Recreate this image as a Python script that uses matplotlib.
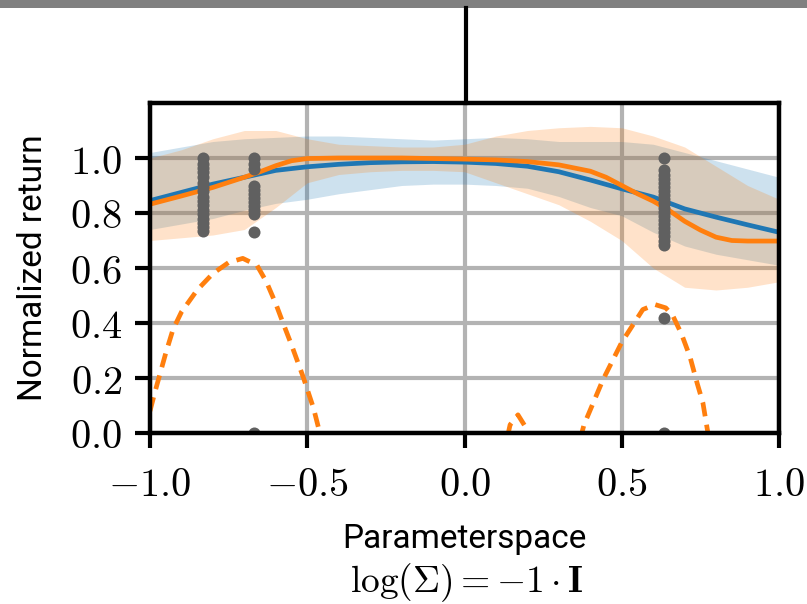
import numpy as np
import matplotlib
matplotlib.use("Agg")
import matplotlib.pyplot as plt
from matplotlib.ticker import FuncFormatter
from matplotlib.lines import Line2D
from matplotlib.patches import Rectangle

plt.rcParams['mathtext.fontset'] = 'cm'
plt.rcParams['font.family'] = ['Roboto', 'DejaVu Sans']

# GP posterior means / confidence bands
x_grid = np.round(np.arange(-1.0, 1.01, 0.1), 2)
blue_mean = [0.845, 0.875, 0.905, 0.93, 0.955, 0.968, 0.977, 0.983, 0.986, 0.987, 0.985,
             0.98, 0.97, 0.95, 0.92, 0.888, 0.858, 0.815, 0.785, 0.757, 0.73]
blue_upper = [1.02, 1.04, 1.06, 1.07, 1.075, 1.08, 1.08, 1.075, 1.07, 1.065, 1.07,
              1.075, 1.07, 1.06, 1.06, 1.06, 1.05, 1.02, 0.99, 0.96, 0.93]
blue_lower = [0.74, 0.76, 0.78, 0.81, 0.835, 0.85, 0.87, 0.885, 0.9, 0.905, 0.905,
              0.9, 0.89, 0.86, 0.82, 0.79, 0.73, 0.68, 0.65, 0.63, 0.61]
orange_upper = [1.0, 1.03, 1.07, 1.10, 1.10, 1.07, 1.05, 1.045, 1.04, 1.04, 1.05,
                1.08, 1.1, 1.11, 1.115, 1.11, 1.08, 1.04, 0.97, 0.9, 0.85]
orange_lower = [0.70, 0.71, 0.72, 0.74, 0.82, 0.91, 0.94, 0.95, 0.955, 0.955, 0.95,
                0.91, 0.87, 0.83, 0.77, 0.70, 0.60, 0.53, 0.52, 0.53, 0.55]

# orange mean read a bit finer where it bends
orange_x = [-1.0, -0.9, -0.8, -0.7, -0.65, -0.6, -0.55, -0.5, -0.4, -0.3, -0.2, -0.1,
            0.0, 0.1, 0.2, 0.3, 0.4, 0.45, 0.5, 0.55, 0.6, 0.65, 0.7, 0.75, 0.8, 0.85,
            0.9, 1.0]
orange_mean = [0.832, 0.862, 0.893, 0.93, 0.95, 0.972, 0.99, 0.998, 1.0, 1.0, 1.0, 0.998,
               0.996, 0.993, 0.987, 0.975, 0.952, 0.93, 0.9, 0.87, 0.843, 0.81, 0.77,
               0.738, 0.712, 0.70, 0.698, 0.698]

# acquisition function (dashed), negative parts are clipped by the axis
acq_x = [-1.0, -0.985, -0.95, -0.927, -0.9, -0.85, -0.8, -0.75, -0.705, -0.66, -0.63,
         -0.6, -0.577, -0.55, -0.513, -0.48, -0.46, -0.44, 0.12, 0.145, 0.17, 0.195,
         0.22, 0.35, 0.38, 0.44, 0.5, 0.567, 0.606, 0.64, 0.663, 0.69, 0.717, 0.74,
         0.758, 0.774, 0.79]
acq_y = [0.08, 0.146, 0.29, 0.376, 0.44, 0.52, 0.58, 0.62, 0.635, 0.61, 0.55,
         0.47, 0.40, 0.32, 0.204, 0.09, 0.0, -0.1, -0.1, 0.03, 0.066, 0.02,
         -0.1, -0.1, 0.03, 0.193, 0.33, 0.449, 0.467, 0.455, 0.425, 0.36, 0.277, 0.18,
         0.11, 0.0, -0.1]

# evaluated samples
samp_x = [-0.83] * 17 + [-0.67] * 13 + [0.634] * 22
samp_y = [1.0, 0.98, 0.965, 0.95, 0.93, 0.91, 0.895, 0.88, 0.86, 0.845, 0.83, 0.81,
          0.795, 0.78, 0.765, 0.75, 0.735,
          1.0, 0.98, 0.96, 0.9, 0.885, 0.87, 0.855, 0.84, 0.825, 0.81, 0.795, 0.73, 0.0,
          1.0, 0.955, 0.94, 0.925, 0.91, 0.895, 0.88, 0.865, 0.85, 0.835, 0.82, 0.805,
          0.79, 0.775, 0.76, 0.745, 0.73, 0.715, 0.70, 0.685, 0.42, 0.0]

blue = '#1f77b4'
orange = '#ff7f0e'

fig = plt.figure(figsize=(8.07, 6.04), dpi=100)
ax = fig.add_axes([150 / 807, 171 / 604, 629 / 807, 330 / 604])

ax.fill_between(x_grid, blue_lower, blue_upper, color=blue, alpha=0.22, lw=0, zorder=2)
ax.fill_between(x_grid, orange_lower, orange_upper, color=orange, alpha=0.22, lw=0, zorder=2)
ax.plot(x_grid, blue_mean, color=blue, lw=3.4, zorder=3)
ax.plot(orange_x, orange_mean, color=orange, lw=3.4, zorder=3)
ax.plot(acq_x, acq_y, color=orange, lw=3.4, ls=(0, (3.0, 1.8)), zorder=3)
ax.scatter(samp_x, samp_y, s=75, color='#606060', lw=0, zorder=4)

ax.set_xlim(-1.0, 1.0)
ax.set_ylim(0.0, 1.2)
ax.set_xticks([-1.0, -0.5, 0.0, 0.5, 1.0])
ax.set_yticks([0.0, 0.2, 0.4, 0.6, 0.8, 1.0])
fmt = FuncFormatter(lambda v, p: f'${v:.1f}$')
ax.xaxis.set_major_formatter(fmt)
ax.yaxis.set_major_formatter(fmt)
ax.tick_params(length=11, width=3.0, labelsize=29, direction='out')
ax.tick_params(axis='y', pad=9)
ax.tick_params(axis='x', pad=12)
ax.grid(True, color='#b3b3b3', lw=3.0, zorder=0)
ax.set_axisbelow(True)
for s in ax.spines.values():
    s.set_linewidth(3.2)
    s.set_zorder(5)

ax.set_xlabel('Parameterspace', fontsize=24, labelpad=14)
ax.set_ylabel('Normalized return', fontsize=24, labelpad=15)
fig.text(467 / 807, 21 / 604, r'$\log(\Sigma) = -1 \cdot \mathbf{I}$',
         fontsize=27, ha='center', va='center')

# fragments of the surrounding layout
fig.add_artist(Rectangle((0, 596 / 604), 1, 8 / 604, transform=fig.transFigure,
                         color='#808080', lw=0))
fig.add_artist(Line2D([466 / 807, 466 / 807], [596 / 604, 501 / 604],
                      transform=fig.transFigure, color='black', lw=3.0))

fig.savefig('out.png', dpi=100)
